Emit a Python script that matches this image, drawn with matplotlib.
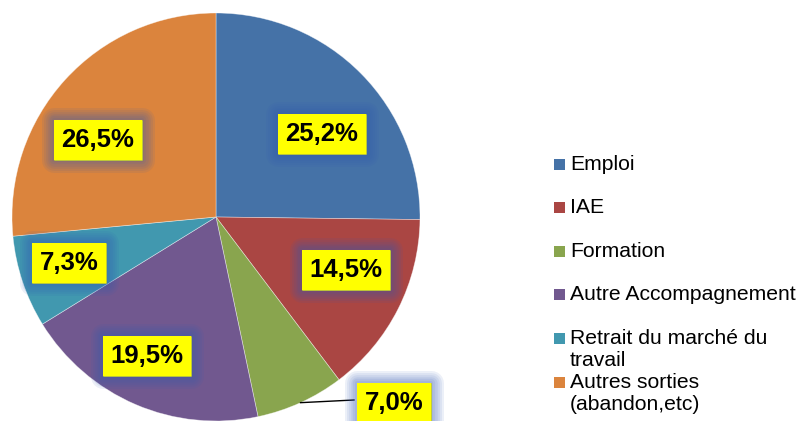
import matplotlib
matplotlib.use("Agg")
import matplotlib.pyplot as plt
import matplotlib.patheffects as pe
from matplotlib.patches import Rectangle
import numpy as np

categories = ["Emploi", "IAE", "Formation", "Autre Accompagnement",
              "Retrait du marché du\ntravail", "Autres sorties\n(abandon,etc)"]
values = [25.2, 14.5, 7.0, 19.5, 7.3, 26.5]
labels = ["25,2%", "14,5%", "7,0%", "19,5%", "7,3%", "26,5%"]
colors = ["#4572A7", "#AA4643", "#89A54E", "#71588F", "#4198AF", "#DB843D"]

plt.rcParams["font.family"] = ["Liberation Sans", "DejaVu Sans"]

W, H = 801, 421
fig = plt.figure(figsize=(W / 100, H / 100), dpi=100)

# pie centre (216, 217) px, radius 204 px
cx, cy, r = 216, 217, 204
ax = fig.add_axes([(cx - r) / W, (H - cy - r) / H, 2 * r / W, 2 * r / H])
ax.pie(values, colors=colors, startangle=90, counterclock=False, radius=1,
       wedgeprops=dict(edgecolor=(1, 1, 1, 0.5), linewidth=0.5))
ax.set_xlim(-1, 1)
ax.set_ylim(-1, 1)
ax.set_aspect("auto")
ax.axis("off")

# label box centres in pixel coords
label_px = [(322, 134), (346, 270), (394, 403), (147, 356), (69, 263), (98, 140)]

def to_data(p):
    return (p[0] - cx) / r, (cy - p[1]) / r

# leader line for the small Formation slice
ang = 90 - 360 * (sum(values[:2]) + values[2] / 2) / 100
ex, ey = np.cos(np.radians(ang)), np.sin(np.radians(ang))
lx, ly = to_data((354, 400))
ax.plot([ex, lx], [ey, ly], color="black", lw=1, clip_on=False, zorder=3)

# soft blue glow around the label boxes
glow = [pe.withStroke(linewidth=lw, foreground=(0.2, 0.35, 0.7, 0.09),
                      joinstyle="round")
        for lw in (18, 15, 12, 9, 6, 3)] + [pe.Normal()]

for lab, p in zip(labels, label_px):
    x, y = to_data(p)
    t = ax.text(x, y, lab, ha="center", va="center", fontsize=18.5,
                fontweight="bold", color="black", zorder=5, clip_on=False,
                bbox=dict(boxstyle="square,pad=0.3", facecolor="#FFFF00",
                          edgecolor="none"))
    t.get_bbox_patch().set_path_effects(glow)

# legend drawn by hand (Excel-style overlapping wrapped entries)
row0, step, line_h = 164, 43.6, 22
for i, (cat, col) in enumerate(zip(categories, colors)):
    yc = row0 + step * i
    fig.patches.append(Rectangle((554 / W, (H - yc - 5.5) / H), 11 / W, 11 / H,
                                 transform=fig.transFigure, facecolor=col,
                                 edgecolor="none"))
    for k, line in enumerate(cat.split("\n")):
        fig.text(570 / W, (H - yc - k * line_h) / H, line, ha="left",
                 va="center", fontsize=15.2, color="black")

fig.savefig("out.png", dpi=100)
